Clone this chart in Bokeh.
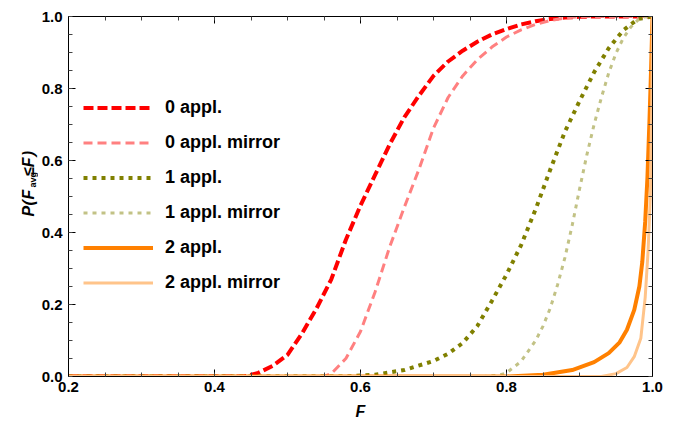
import numpy as np
from bokeh.plotting import figure
from bokeh.layouts import row
from bokeh.models import Range1d, LinearAxis, FixedTicker, PrintfTickFormatter, Label
from bokeh.embed import file_html
from bokeh.resources import INLINE

# ---- data ----
f0 = [0.2, 0.44, 0.46, 0.48, 0.50, 0.52, 0.54, 0.56, 0.58, 0.60, 0.62, 0.64, 0.66, 0.68, 0.70,
      0.72, 0.74, 0.76, 0.78, 0.80, 0.82, 0.84, 0.86, 0.88, 0.90, 0.92, 1.0]
p0 = [0.0, 0.0, 0.01, 0.03, 0.06, 0.12, 0.19, 0.27, 0.38, 0.475, 0.56, 0.645, 0.72, 0.78, 0.835,
      0.875, 0.905, 0.93, 0.95, 0.965, 0.978, 0.987, 0.993, 0.997, 0.999, 1.0, 1.0]

f0m = [0.2, 0.55, 0.56, 0.58, 0.60, 0.62, 0.64, 0.66, 0.68, 0.70, 0.72, 0.74, 0.76, 0.78, 0.80,
       0.82, 0.84, 0.86, 0.88, 0.90, 0.92, 1.0]
p0m = [0.0, 0.0, 0.008, 0.05, 0.125, 0.235, 0.36, 0.47, 0.575, 0.69, 0.775, 0.835, 0.88, 0.915,
       0.943, 0.963, 0.978, 0.989, 0.996, 0.999, 1.0, 1.0]

f1 = [0.2, 0.58, 0.62, 0.66, 0.70, 0.72, 0.74, 0.76, 0.78, 0.80, 0.82, 0.84, 0.86, 0.88, 0.90,
      0.92, 0.94, 0.96, 0.98, 1.0]
p1 = [0.0, 0.0, 0.005, 0.018, 0.043, 0.063, 0.093, 0.14, 0.21, 0.283, 0.365, 0.465, 0.575, 0.68,
      0.765, 0.845, 0.912, 0.962, 0.993, 1.0]

f1m = [0.2, 0.77, 0.79, 0.80, 0.82, 0.84, 0.85, 0.86, 0.87, 0.88, 0.89, 0.90, 0.91, 0.92, 0.93,
       0.94, 0.95, 0.96, 0.97, 0.98, 0.99, 1.0]
p1m = [0.0, 0.0, 0.004, 0.01, 0.042, 0.1, 0.14, 0.19, 0.255, 0.33, 0.42, 0.52, 0.615, 0.7, 0.775,
       0.843, 0.898, 0.94, 0.97, 0.99, 0.999, 1.0]

f2 = [0.2, 0.80, 0.85, 0.89, 0.92, 0.94, 0.955, 0.965, 0.975, 0.982, 0.986, 0.99, 0.993, 0.996,
      0.998, 1.0]
p2 = [0.0, 0.0, 0.005, 0.018, 0.04, 0.065, 0.095, 0.13, 0.185, 0.25, 0.318, 0.43, 0.55, 0.72,
      0.85, 1.0]

f2m = [0.2, 0.93, 0.95, 0.965, 0.975, 0.984, 0.99, 0.994, 0.997, 0.999, 1.0]
p2m = [0.0, 0.0, 0.008, 0.025, 0.055, 0.106, 0.22, 0.35, 0.5, 0.75, 1.0]

labels = ["0 appl.", "0 appl. mirror", "1 appl.", "1 appl. mirror", "2 appl.", "2 appl. mirror"]

x_ticks = [0.2, 0.4, 0.6, 0.8, 1.0]
y_ticks = [0.0, 0.2, 0.4, 0.6, 0.8, 1.0]

FONT = "Liberation Sans"
W, H = 678, 424
SIDE_W = 38

# ---- main plot ----
p = figure(width=W - SIDE_W, height=H, output_backend="svg", toolbar_location=None,
           x_range=Range1d(0.2, 1.0), y_range=Range1d(0.0, 1.0),
           min_border_left=68 - SIDE_W, min_border_right=26, min_border_top=16,
           min_border_bottom=48)
p.xgrid.visible = False
p.ygrid.visible = False
p.outline_line_color = "black"
p.outline_line_width = 1
p.background_fill_color = "white"

series = [
    (f0, p0, "#FF0000", 4, "10 4"),
    (f0m, p0m, "#FF8080", 3, "9 5"),
    (f1, p1, "#808000", 4, "4 5"),
    (f1m, p1m, "#C2C285", 3, "4 5"),
    (f2, p2, "#FF8000", 4, "solid"),
    (f2m, p2m, "#FFC48A", 3, "solid"),
]
for (xs, ys, col, w, dash), lab in zip(series, labels):
    p.line(xs, ys, line_color=col, line_width=w, line_dash=dash, legend_label=lab)

xminor = list(np.round(np.arange(0.2, 1.0001, 0.05), 3))
yminor = list(np.round(np.arange(0.0, 1.0001, 0.05), 3))

def style_axis(ax, ticks, minor, show_labels=True):
    ax.ticker = FixedTicker(ticks=ticks, minor_ticks=minor)
    ax.formatter = PrintfTickFormatter(format="%.1f")
    ax.major_tick_in = 7
    ax.major_tick_out = 0
    ax.minor_tick_in = 4
    ax.minor_tick_out = 0
    ax.major_tick_line_color = "black"
    ax.minor_tick_line_color = "#444444"
    ax.axis_line_color = "black"
    ax.major_label_text_font = FONT
    ax.major_label_text_font_style = "bold"
    ax.major_label_text_color = "black"
    if show_labels:
        ax.major_label_text_font_size = "15px"
    else:
        ax.major_label_text_font_size = "0px"
        ax.major_label_text_alpha = 0
        ax.major_label_standoff = 0

style_axis(p.xaxis[0], x_ticks, xminor)
style_axis(p.yaxis[0], y_ticks, yminor)
p.xaxis[0].major_label_standoff = 5
p.yaxis[0].major_label_standoff = 6
p.xaxis[0].axis_label = "F"
p.xaxis[0].axis_label_text_font = FONT
p.xaxis[0].axis_label_text_font_style = "bold italic"
p.xaxis[0].axis_label_text_font_size = "16px"
p.xaxis[0].axis_label_text_color = "black"
p.xaxis[0].axis_label_standoff = 8

top = LinearAxis()
style_axis(top, x_ticks, xminor, show_labels=False)
p.add_layout(top, "above")
right = LinearAxis()
style_axis(right, y_ticks, yminor, show_labels=False)
p.add_layout(right, "right")

lg = p.legend[0]
lg.location = (15, 83)
lg.background_fill_alpha = 0
lg.border_line_alpha = 0
lg.padding = 0
lg.margin = 0
lg.glyph_width = 70
lg.glyph_height = 21
lg.label_height = 21
lg.spacing = 14
lg.label_standoff = 12
lg.label_text_font = FONT
lg.label_text_font_style = "bold"
lg.label_text_font_size = "18px"
lg.label_text_color = "black"

# ---- left strip: rotated y-axis title (pixel coordinates, y downward) ----
side = figure(width=SIDE_W, height=H, output_backend="svg", toolbar_location=None,
              x_range=Range1d(0, SIDE_W), y_range=Range1d(H, 0),
              x_axis_location=None, y_axis_location=None,
              min_border_left=0, min_border_right=0, min_border_top=0, min_border_bottom=0)
side.outline_line_color = None
side.xgrid.visible = False
side.ygrid.visible = False
ang = np.pi / 2
# (text, start y, centre x of the text line, style, size)
y_title = [("P", 235.5, 27.5, "bold italic", "16px"),
           ("(", 222.5, 27.5, "bold italic", "16px"),
           ("F", 215.5, 27.5, "bold italic", "16px"),
           ("avg", 201.5, 32.0, "bold", "9px"),
           ("≤", 187.5, 27.5, "bold", "16px"),
           ("F", 177.5, 27.5, "bold italic", "16px"),
           (")", 164.5, 27.5, "bold italic", "16px")]
for txt, yy, xx, style, size in y_title:
    side.add_layout(Label(x=xx, y=yy, text=txt, angle=ang, text_font=FONT,
                          text_font_style=style, text_font_size=size, text_color="black",
                          text_align="left", text_baseline="middle"))

layout = row(side, p)
open("out.html", "w").write(file_html(layout, INLINE))
